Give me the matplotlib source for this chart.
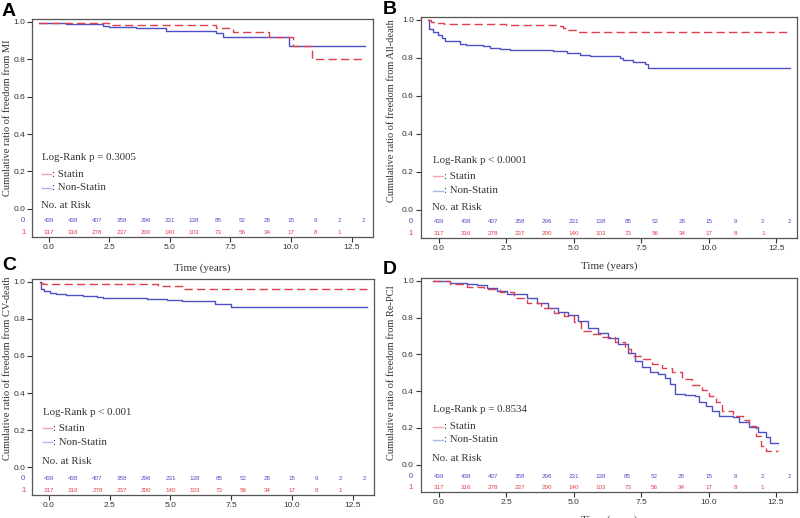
import matplotlib
matplotlib.use("Agg")
import matplotlib.pyplot as plt

# ---------------- data ----------------
panel_letters = ["A", "B", "C", "D"]
ylabels = [
    "Cumulative ratio of freedom from MI",
    "Cumulative ratio of freedom from All-death",
    "Cumulative ratio of freedom from CV-death",
    "Cumulative ratio of freedom from Re-PCI",
]
pvalue_texts = [
    "Log-Rank p = 0.3005",
    "Log-Rank p < 0.0001",
    "Log-Rank p < 0.001",
    "Log-Rank p = 0.8534",
]

# Panel A (MI)
a_stat_t = [-0.4, 2.5, 6.9, 7.6, 9.1, 10.1, 10.85, 13.05]
a_stat_v = [0.995, 0.982, 0.965, 0.947, 0.92, 0.869, 0.802, 0.802]
a_non_t = [-0.4, 0.7, 2.25, 2.5, 3.6, 4.85, 6.9, 7.2, 9.9, 13.05]
a_non_v = [0.995, 0.986, 0.979, 0.973, 0.965, 0.949, 0.938, 0.92, 0.87, 0.87]

# Panel B (All-death)
b_stat_t = [-0.4, -0.3, -0.1, 0.2, 2.5, 4.4, 4.6, 4.8, 5.1, 13.0]
b_stat_v = [1.0, 0.99, 0.985, 0.978, 0.973, 0.965, 0.957, 0.947, 0.935, 0.935]
b_non_t = [-0.4, -0.38, -0.21, -0.02, 0.1, 0.22, 0.78, 1.02, 1.64, 1.89, 2.26, 2.63,
           4.23, 4.73, 5.22, 5.59, 6.7, 6.83, 7.2, 7.63, 7.75, 13.0]
b_non_v = [1.0, 0.953, 0.935, 0.918, 0.904, 0.888, 0.874, 0.868, 0.86, 0.851, 0.844, 0.84,
           0.833, 0.825, 0.816, 0.807, 0.8, 0.786, 0.777, 0.765, 0.746, 0.746]

# Panel C (CV-death)
c_stat_t = [-0.37, -0.25, 4.5, 5.5, 13.1]
c_stat_v = [0.995, 0.989, 0.977, 0.963, 0.963]
c_non_t = [-0.37, -0.34, -0.2, 0.03, 0.3, 0.72, 1.4, 1.96, 2.23, 4.02, 4.85, 5.47, 6.85, 7.5, 13.1]
c_non_v = [1.0, 0.959, 0.95, 0.941, 0.934, 0.929, 0.923, 0.918, 0.911, 0.905, 0.9, 0.895,
           0.882, 0.866, 0.866]

# Panel D (Re-PCI)
d_stat_t = [-0.21, 0.41, 1.03, 1.66, 2.28, 2.78, 3.28, 3.78, 4.28, 4.65, 5.02, 5.27, 5.65,
            6.02, 6.52, 6.9, 7.14, 7.52, 7.89, 8.27, 8.64, 9.01, 9.39, 9.76, 10.01, 10.26,
            10.51, 10.89, 11.26, 11.51, 11.76, 11.95, 12.13, 12.57]
d_stat_v = [1.0, 0.982, 0.969, 0.958, 0.937, 0.909, 0.882, 0.855, 0.828, 0.81, 0.774, 0.728,
            0.71, 0.692, 0.668, 0.629, 0.592, 0.574, 0.547, 0.524, 0.502, 0.466, 0.433, 0.408,
            0.375, 0.339, 0.293, 0.266, 0.243, 0.212, 0.158, 0.103, 0.076, 0.076]
d_non_t = [-0.21, 0.41, 1.03, 1.41, 1.78, 2.16, 2.53, 2.97, 3.28, 3.65, 4.03, 4.4, 4.78, 5.15,
           5.52, 5.9, 6.27, 6.65, 7.02, 7.27, 7.52, 7.83, 8.14, 8.39, 8.58, 8.77, 9.14, 9.51,
           9.64, 9.89, 10.14, 10.39, 10.89, 11.13, 11.51, 11.82, 12.13, 12.26, 12.57]
d_non_v = [1.0, 0.987, 0.982, 0.978, 0.964, 0.946, 0.931, 0.928, 0.909, 0.882, 0.855, 0.832,
           0.813, 0.783, 0.746, 0.716, 0.687, 0.656, 0.61, 0.565, 0.529, 0.502, 0.493, 0.469,
           0.438, 0.384, 0.379, 0.375, 0.339, 0.32, 0.293, 0.266, 0.257, 0.23, 0.203, 0.176,
           0.149, 0.118, 0.118]

statin_t = [a_stat_t, b_stat_t, c_stat_t, d_stat_t]
statin_v = [a_stat_v, b_stat_v, c_stat_v, d_stat_v]
non_t = [a_non_t, b_non_t, c_non_t, d_non_t]
non_v = [a_non_v, b_non_v, c_non_v, d_non_v]

risk_times_non = list(range(14))
risk_non = [439, 438, 407, 358, 296, 231, 138, 85, 52, 28, 15, 9, 2, 2]
risk_times_stat = list(range(13))
risk_stat = [317, 316, 278, 237, 200, 140, 103, 73, 56, 34, 17, 8, 1]

xticks = [0.0, 2.5, 5.0, 7.5, 10.0, 12.5]
yticks = [0.0, 0.2, 0.4, 0.6, 0.8, 1.0]

# ---------------- style ----------------
BLUE = "#4f4fc4"
RED = "#e0404c"
PALE_RED = "#f3a3ab"
PALE_BLUE = "#aab8ee"
SERIF = ["Liberation Serif", "DejaVu Serif"]
SANS = ["Liberation Sans", "DejaVu Sans"]

fig = plt.figure(figsize=(8.0, 5.18), dpi=100)

rects = [
    [0.040, 0.5425, 0.426, 0.421],
    [0.526, 0.5405, 0.470, 0.427],
    [0.040, 0.0444, 0.428, 0.417],
    [0.526, 0.0500, 0.470, 0.413],
]
xlims = [(-0.70, 13.38), (-0.67, 13.26), (-0.70, 13.40), (-0.67, 13.27)]
ylim = (-0.15, 1.015)
ylabel_pos = [(-0.058, 0.546), (-0.065, 0.575), (-0.058, 0.585), (-0.065, 0.56)]
text_x = [-0.29, -0.22, -0.25, -0.22]
text_y = [(0.277, 0.186, 0.112, 0.016), (0.26, 0.175, 0.10, 0.01),
          (0.296, 0.21, 0.134, 0.032), (0.299, 0.207, 0.136, 0.033)]
letter_pos = [(2, 3), (383, 1), (2, 257), (383, 261)]
xlabel_y = [-0.123, -0.105, -0.112, -0.108]

for i in range(4):
    ax = fig.add_axes(rects[i])
    ax.step(non_t[i], non_v[i], where="post", color=BLUE, lw=1.0)
    ax.step(statin_t[i], statin_v[i], where="post", color=RED, lw=1.0,
            linestyle=(0, (6, 3)))
    ax.set_xlim(*xlims[i])
    ax.set_ylim(*ylim)
    ax.set_xticks(xticks)
    ax.set_xticklabels([f"{v:.1f}" for v in xticks])
    ax.set_yticks(yticks)
    ax.set_yticklabels([f"{v:.1f}" for v in yticks])
    ax.tick_params(axis="both", direction="out", length=3.5, width=0.8,
                   colors="#333333", labelsize=6, pad=1.5)
    for lab in ax.get_xticklabels() + ax.get_yticklabels():
        lab.set_family(SANS)
    for sp in ax.spines.values():
        sp.set_color("#555555")
        sp.set_linewidth(0.9)

    ax.set_ylabel(ylabels[i], family=SERIF, fontsize=7.5, color="#333333")
    ax.yaxis.set_label_coords(*ylabel_pos[i])
    ax.set_xlabel("Time (years)", family=SERIF, fontsize=8, color="#333333")
    ax.xaxis.set_label_coords(0.5, xlabel_y[i])

    tx = text_x[i]
    ty = text_y[i]
    ax.text(tx, ty[0], pvalue_texts[i], family=SERIF, fontsize=7.8,
            color="#333333", va="center", ha="left")
    ax.plot([tx, tx + 0.38], [ty[1], ty[1]], color=PALE_RED, lw=1.0)
    ax.text(tx + 0.40, ty[1], ": Statin", family=SERIF, fontsize=7.8,
            color="#333333", va="center", ha="left")
    ax.plot([tx, tx + 0.38], [ty[2], ty[2]], color=PALE_BLUE, lw=1.0)
    ax.text(tx + 0.40, ty[2], ": Non-Statin", family=SERIF, fontsize=7.8,
            color="#333333", va="center", ha="left")
    ax.text(tx - 0.05, ty[3], "No. at Risk", family=SERIF, fontsize=7.8,
            color="#333333", va="center", ha="left")

    for t, n in zip(risk_times_non, risk_non):
        ax.text(t, -0.063, str(n), family=SANS, fontsize=4.5, color=BLUE,
                ha="center", va="center")
    for t, n in zip(risk_times_stat, risk_stat):
        ax.text(t, -0.125, str(n), family=SANS, fontsize=4.5, color=RED,
                ha="center", va="center")
    trans = ax.get_yaxis_transform()
    ax.text(-0.026, -0.063, "0", transform=trans, family=SANS, fontsize=5.5,
            color=BLUE, ha="center", va="center", clip_on=False)
    ax.text(-0.026, -0.125, "1", transform=trans, family=SANS, fontsize=5.5,
            color=RED, ha="center", va="center", clip_on=False)

    lx, ly = letter_pos[i]
    fig.text(lx / 800.0, 1 - ly / 518.0, panel_letters[i], family=SANS,
             fontsize=14, fontweight="bold", ha="left", va="top", color="black")

fig.savefig("out.png", dpi=100)
